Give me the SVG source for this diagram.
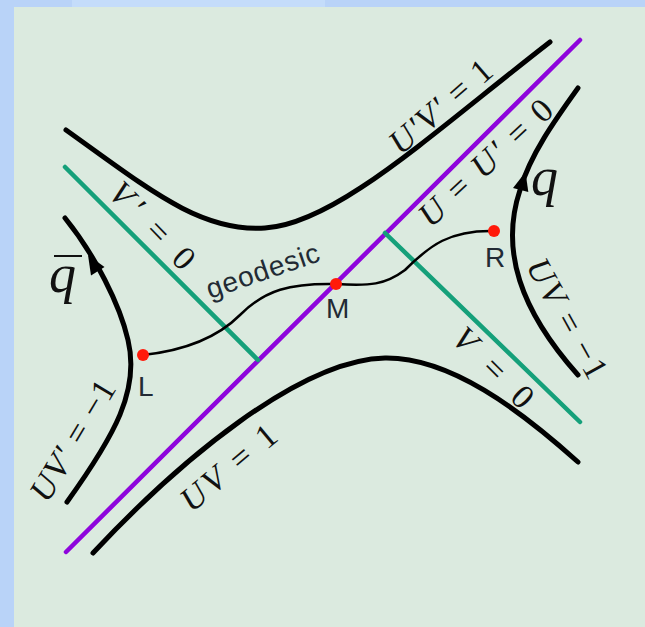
<svg xmlns="http://www.w3.org/2000/svg" width="645" height="627" viewBox="0 0 645 627">
<style>
.curve{fill:none;stroke:#000;stroke-width:5;stroke-linecap:round}
.purple{fill:none;stroke:#8e05dc;stroke-width:4.5;stroke-linecap:round}
.green{fill:none;stroke:#15a07a;stroke-width:4.5;stroke-linecap:round}
.geo{fill:none;stroke:#000;stroke-width:2.5}
.arrow{fill:#000}
.math{font-family:"Liberation Serif","DejaVu Serif",serif;font-size:34px;fill:#111}
.it{font-style:italic}
.q{font-family:"Liberation Serif","DejaVu Serif",serif;font-style:italic;font-size:54px;fill:#111}
.pt{font-family:"Liberation Sans",Arial,sans-serif;font-size:28px;fill:#222a34}
.dot{fill:#ff1a0a}
</style>
<rect x="0" y="0" width="645" height="627" fill="#b9d3f8"/>
<rect x="72" y="0" width="253" height="7" fill="#c4dcfa"/>
<rect x="14" y="7" width="631" height="620" fill="#dbeadf"/>

<g id="connectors">
  <path id="upper-hyperbola" class="curve" d="M66,130 C150,190 200,232 265,228 C335,224 430,135 550,42"/>
  <path id="lower-hyperbola" class="curve" d="M93,553 C180,460 300,360 385,358 C450,357 520,410 578,462"/>
  <path id="left-hyperbola" class="curve" d="M67,502 C115,435 140,390 128,340 C120,305 95,255 65,218"/>
  <path id="right-hyperbola" class="curve" d="M578,375 C520,310 500,250 520,190 C530,155 555,120 578,88"/>
  <line id="horizon-U0" class="purple" x1="66" y1="552" x2="580" y2="40"/>
  <line id="horizon-Vp0" class="green" x1="65" y1="167" x2="258" y2="360"/>
  <line id="horizon-V0" class="green" x1="385" y1="233" x2="580" y2="422"/>
  <path id="geodesic" class="geo" d="M143,355 C190,350 220,335 240,315 C265,290 290,283 336,284 C370,286 385,285 405,270 C430,245 450,230 494,231"/>
  <polygon class="arrow" points="88,255 104.5,267 91,275.5"/>
  <polygon class="arrow" points="525.5,172 528.3,192 513,188"/>
</g>

<g id="node-L">
  <circle class="dot" cx="143" cy="355" r="6"/>
  <text class="pt" x="138" y="396">L</text>
</g>
<g id="node-M">
  <circle class="dot" cx="336" cy="284" r="6"/>
  <text class="pt" x="326" y="318">M</text>
</g>
<g id="node-R">
  <circle class="dot" cx="494" cy="231" r="6"/>
  <text class="pt" x="485" y="267">R</text>
</g>

<g id="label-geodesic" transform="translate(210,299) rotate(-19)">
  <text class="pt" x="0" y="0" textLength="118" lengthAdjust="spacing">geodesic</text>
</g>

<g id="label-qbar">
  <text class="q" x="49" y="292">q</text>
  <line x1="54" y1="256" x2="82" y2="256" stroke="#111" stroke-width="2"/>
</g>
<g id="label-q">
  <text class="q" x="531" y="195">q</text>
</g>

<g id="label-UpVp1" transform="translate(440,106) rotate(-41)">
  <text class="math" text-anchor="middle" y="12" textLength="125" lengthAdjust="spacing"><tspan class="it">U′V′</tspan> = 1</text>
</g>
<g id="label-U0" transform="translate(485,162) rotate(-43)">
  <text class="math" text-anchor="middle" y="12" textLength="170" lengthAdjust="spacing"><tspan class="it">U</tspan> = <tspan class="it">U′</tspan> = 0</text>
</g>
<g id="label-Vp0" transform="translate(153,225) rotate(46)">
  <text class="math" text-anchor="middle" y="12" textLength="108" lengthAdjust="spacing"><tspan class="it">V′</tspan> = 0</text>
</g>
<g id="label-V0" transform="translate(494,367) rotate(45)">
  <text class="math" text-anchor="middle" y="12" textLength="100" lengthAdjust="spacing"><tspan class="it">V</tspan> = 0</text>
</g>
<g id="label-UVm1" transform="translate(568,318) rotate(61)">
  <text class="math" text-anchor="middle" y="12" textLength="132" lengthAdjust="spacing"><tspan class="it">UV</tspan> = −1</text>
</g>
<g id="label-UVpm1" transform="translate(72,440) rotate(-59)">
  <text class="math" text-anchor="middle" y="12" textLength="135" lengthAdjust="spacing"><tspan class="it">UV′</tspan> = −1</text>
</g>
<g id="label-UV1" transform="translate(228,467) rotate(-40)">
  <text class="math" text-anchor="middle" y="12" textLength="115" lengthAdjust="spacing"><tspan class="it">UV</tspan> = 1</text>
</g>
</svg>
